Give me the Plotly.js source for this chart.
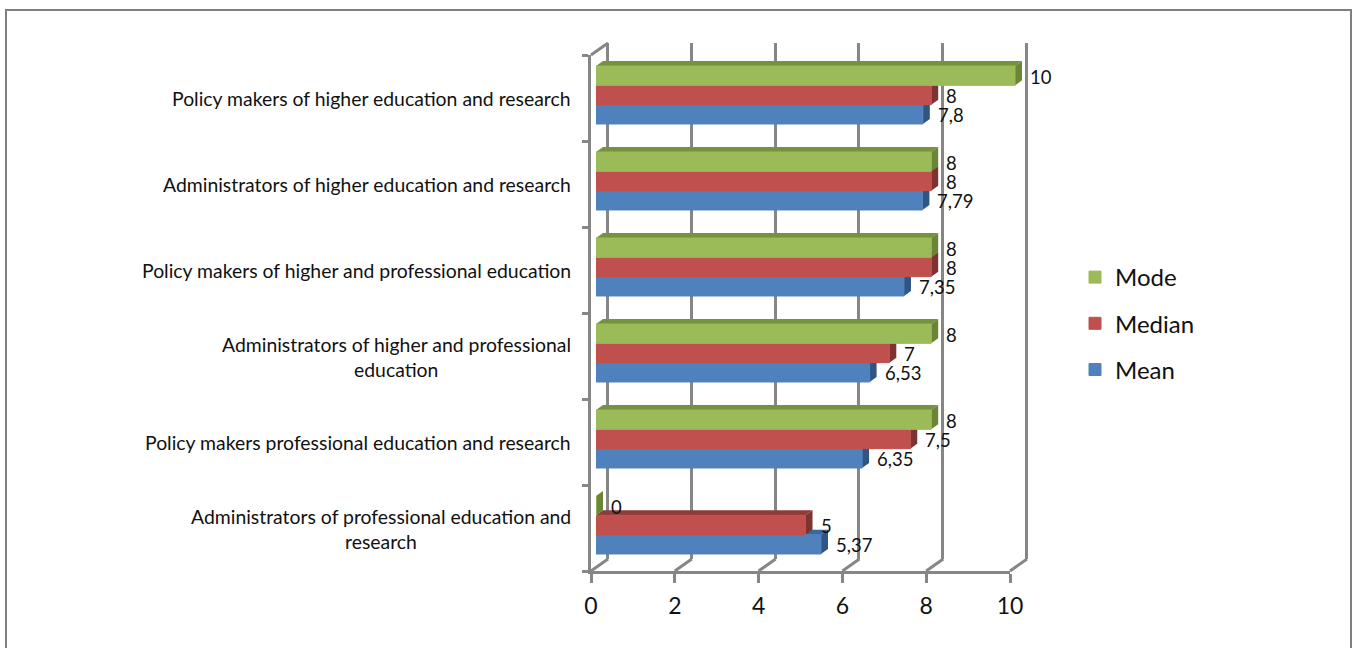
<!DOCTYPE html>
<html><head><meta charset="utf-8">
<script src="https://cdn.plot.ly/plotly-3.0.1.min.js"></script>
<style>html,body{margin:0;padding:0;background:#fff}#c{width:1352px;height:648px}</style>
</head><body><div id="c"></div>
<script>
// Data, bottom row first
const categories = [
  ["Administrators of professional education and","research"],
  ["Policy makers professional education and research"],
  ["Administrators of higher and professional","education"],
  ["Policy makers of higher and professional education"],
  ["Administrators of higher education and research"],
  ["Policy makers of higher education and research"]
];
const mean   = [5.37, 6.35, 6.53, 7.35, 7.79, 7.8];
const median = [5, 7.5, 7, 8, 8, 8];
const mode   = [0, 8, 8, 8, 8, 10];
const xTicks = [0, 2, 4, 6, 8, 10];

const W = 1352, H = 648;
const FONT = 'Lato, "Open Sans", sans-serif';
const GRAY = '#868686';
const X0 = 591, X10 = 1010, YT = 55, YB = 571;
const ppu = (X10 - X0) / 10, rowH = (YB - YT) / 6;
const domX = (a, b) => [a / W, b / W];
const domY = (t, b) => [1 - b / H, 1 - t / H];
const BX = 5, BY = -3;        // offset of the bar plane from the axis plane
const DX = 7, DY = 5;         // depth of the bars
const WX = 17, WY = -12;      // offset of the back wall
const PAD = 0.2;
const GAP = 0.326;
const slot = (1 - GAP) / 3;

const rowsIdx = categories.map((_, i) => i);
const seriesList = [
  {name: 'Mean',   v: mean,   front: '#4F81BD', top: '#3A679E', side: '#2F5583', rank: 3},
  {name: 'Median', v: median, front: '#C0504D', top: '#8E3B39', side: '#7F3331', rank: 2},
  {name: 'Mode',   v: mode,   front: '#9BBB59', top: '#76923F', side: '#6A8537', rank: 1}
];

const traces = [{type: 'scatter', mode: 'none', x: xTicks, y: xTicks.map(() => 0.5), xaxis: 'x', yaxis: 'y', showlegend: false, hoverinfo: 'skip'}]
  .concat(seriesList.map(s => ({
    type: 'bar', orientation: 'h', name: s.name, x: s.v, y: rowsIdx,
    xaxis: 'x3', yaxis: 'y3', legendgroup: s.name, legendrank: s.rank, hoverinfo: 'x+name',
    marker: {color: s.front, line: {width: 1, color: s.front}}
  })));

// top and side faces derived from the values through the bar axes
const shapes = [];
const dxU = DX / ppu, dyU = DY / rowH;
seriesList.forEach((s, k) => {
  s.v.forEach((v, i) => {
    const lo = i - 1.5 * slot + k * slot, hi = lo + slot;
    const base = {type: 'path', xref: 'x3', yref: 'y3', layer: 'between', line: {width: 0}};
    if (v > 0) shapes.push(Object.assign({}, base, {fillcolor: s.top,
      path: `M0,${hi}L${dxU},${hi + dyU}L${v + dxU},${hi + dyU}L${v},${hi}Z`}));
    shapes.push(Object.assign({}, base, {fillcolor: s.side,
      path: `M${v},${lo}L${v + dxU},${lo + dyU}L${v + dxU},${hi + dyU}L${v},${hi}Z`}));
  });
});
// floor and corner connectors between front axes and back wall
const conn = {type: 'line', xref: 'paper', yref: 'paper', layer: 'below', line: {color: GRAY, width: 3}};
xTicks.forEach(t => {
  const px = X0 + t * ppu;
  shapes.push(Object.assign({}, conn, {x0: px / W, x1: (px + WX) / W, y0: 1 - YB / H, y1: 1 - (YB + WY) / H}));
});
shapes.push(Object.assign({}, conn, {x0: X0 / W, x1: (X0 + WX) / W, y0: 1 - YT / H, y1: 1 - (YT + WY) / H}));
// outer frame
shapes.push({type: 'rect', xref: 'paper', yref: 'paper', layer: 'below', x0: 6 / W, x1: 1351 / W, y0: -0.05, y1: 1 - 10 / H,
  line: {color: '#7f7f7f', width: 2}, fillcolor: 'rgba(0,0,0,0)'});

// annotations
const annotations = [];
seriesList.forEach((s, k) => {
  s.v.forEach((v, i) => {
    annotations.push({xref: 'x3', yref: 'y3', x: v, y: i - slot + k * slot, xanchor: 'left', yanchor: 'middle',
      xshift: 13, yshift: -1, showarrow: false, text: String(v).replace('.', ','), font: {family: FONT, size: 18.5, color: '#111'}});
  });
});
const secondLineCentre = {0: 381, 2: 396};
categories.forEach((lines, i) => {
  const n = lines.length;
  lines.forEach((t, j) => {
    annotations.push({xref: 'paper', yref: 'y2', x: j === 0 ? 571 / W : secondLineCentre[i] / W, y: i,
      xanchor: j === 0 ? 'right' : 'center', yanchor: 'middle', showarrow: false,
      yshift: n > 1 ? (j === 0 ? 12 : -13) : 0, xshift: j === 0 ? 2 : 0,
      text: t, font: {family: FONT, size: 19.4, color: '#111'}});
  });
});

const layout = {
  width: W, height: H, autosize: false,
  margin: {l: 0, r: 0, t: 0, b: 0, pad: 0},
  paper_bgcolor: '#fff', plot_bgcolor: 'rgba(0,0,0,0)',
  font: {family: FONT, color: '#111'},
  barmode: 'group', bargap: GAP, bargroupgap: 0,
  showlegend: true,
  legend: {x: 1075 / W, xanchor: 'left', y: 1 - 255 / H, yanchor: 'top', traceorder: 'grouped',
    tracegroupgap: 12, font: {family: FONT, size: 24, color: '#111'}, bgcolor: 'rgba(0,0,0,0)', itemclick: false},
  // back wall
  xaxis: {domain: domX(608 - PAD * ppu, 1026 + PAD * ppu), range: [-PAD, 10 + PAD], tickmode: 'array', tickvals: xTicks, ticks: '', showticklabels: false,
    showgrid: true, gridcolor: GRAY, gridwidth: 3, zeroline: false, showline: false, anchor: 'y'},
  yaxis: {domain: domY(43, 559), range: [0, 1], showgrid: false, showticklabels: false, zeroline: false, ticks: '', anchor: 'x'},
  // front axes
  xaxis2: {domain: domX(X0, X10), range: [0, 10], tickvals: xTicks, ticktext: xTicks.map(String), tickmode: 'array', ticks: 'outside', ticklen: 9, tickwidth: 3,
    tickcolor: GRAY, showline: true, linecolor: GRAY, linewidth: 3, showgrid: false, zeroline: false, anchor: 'y2', ticklabelstandoff: 3,
    tickfont: {family: FONT, size: 23, color: '#111'}},
  yaxis2: {domain: domY(YT, YB), range: [-0.5, 5.5], tickmode: 'array', tickvals: [-0.5, 0.5, 1.5, 2.5, 3.5, 4.5, 5.5], ticks: 'outside', ticklen: 6, tickwidth: 3,
    tickcolor: GRAY, showline: true, linecolor: GRAY, linewidth: 3, showgrid: false, zeroline: false, showticklabels: false, anchor: 'x2'},
  // bar plane (one extra unit so the end faces of the longest bar are not clipped)
  xaxis3: {domain: domX(X0 + BX, X10 + BX + ppu), range: [0, 11], visible: false, anchor: 'y3', fixedrange: true},
  yaxis3: {domain: domY(YT + BY, YB + BY), range: [-0.5, 5.5], visible: false, anchor: 'x3', fixedrange: true},
  shapes, annotations
};
Plotly.newPlot('c', traces, layout, {displayModeBar: false, staticPlot: true});
</script></body></html>
